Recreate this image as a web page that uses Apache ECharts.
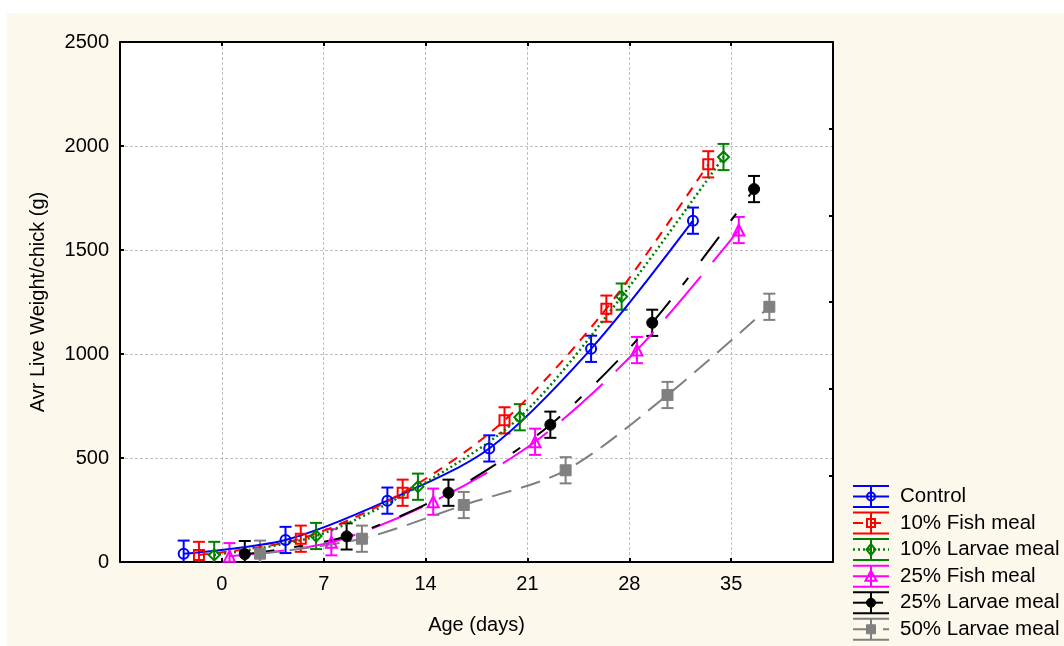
<!DOCTYPE html>
<html>
<head>
<meta charset="utf-8">
<title>Avr Live Weight/chick</title>
<script src="https://cdn.jsdelivr.net/npm/echarts@6/dist/echarts.min.js"></script>
<style>
html, body { margin: 0; padding: 0; background: #ffffff; }
#paper { position: absolute; left: 7px; top: 13px; width: 1057px; height: 633px; background: #fdf8ec; }
#chart { position: absolute; left: 0; top: 0; width: 1064px; height: 646px; }
</style>
</head>
<body>
<div id="paper"></div>
<div id="chart"></div>
<script>
// sampling days (x categories)
const days = [0, 7, 14, 21, 28, 35]
const seriesNames = ['Control', '10% Fish meal', '10% Larvae meal', '25% Fish meal', '25% Larvae meal', '50% Larvae meal']

// mean live weight (g)
const control = [40, 106, 295, 546, 1025, 1641]
const fishMeal10 = [34, 112, 333, 681, 1218, 1912]
const larvaeMeal10 = [34, 125, 362, 696, 1276, 1947]
const fishMeal25 = [28, 95, 290, 578, 1019, 1596]
const larvaeMeal25 = [38, 123, 333, 660, 1150, 1793]
const larvaeMeal50 = [40, 112, 274, 441, 803, 1227]

// half length of the error bars (g)
const errHalf = 63

const yTicks = [0, 500, 1000, 1500, 2000, 2500]

const allValues = [control, fishMeal10, larvaeMeal10, fishMeal25, larvaeMeal25, larvaeMeal50]

// styles per series (hollow = outline only)
const styles = [
  { color: '#0000ff', dash: 'solid', width: 2, symbol: 'circle', hollow: true, size: 10 },
  { color: '#ff0000', dash: [10, 8], width: 2, symbol: 'rect', hollow: true, size: 10 },
  { color: '#008000', dash: [2, 3], width: 2.5, symbol: 'diamond', hollow: true, size: 11 },
  { color: '#ff00ff', dash: [55, 18], width: 2, symbol: 'triangle', hollow: true, size: 11 },
  { color: '#000000', dash: [30, 20, 9, 21], width: 2, symbol: 'circle', hollow: false, size: 11 },
  { color: '#808080', dash: [20, 10], width: 2, symbol: 'rect', hollow: false, size: 11 }
]
// horizontal dodge of each group so the error bars do not overlap (days)
const dodge = 1.05

const font = 'Liberation Sans, Arial, sans-serif'

const series = []
allValues.forEach((vals, i) => {
  const off = (i - 2.5) * dodge
  const st = styles[i]
  const pts = vals.map((v, k) => [days[k] + off, v])
  series.push({
    name: seriesNames[i],
    type: 'custom',
    z: 2,
    silent: true,
    data: vals.map((v, k) => [days[k] + off, v - errHalf, v + errHalf]),
    renderItem: function (params, api) {
      const lo = api.coord([api.value(0), api.value(1)])
      const hi = api.coord([api.value(0), api.value(2)])
      const w = 6
      const ls = { stroke: st.color, lineWidth: 2 }
      return {
        type: 'group',
        children: [
          { type: 'line', shape: { x1: hi[0], y1: hi[1], x2: lo[0], y2: lo[1] }, style: ls },
          { type: 'line', shape: { x1: hi[0] - w, y1: hi[1], x2: hi[0] + w, y2: hi[1] }, style: ls },
          { type: 'line', shape: { x1: lo[0] - w, y1: lo[1], x2: lo[0] + w, y2: lo[1] }, style: ls }
        ]
      }
    },
    clip: true
  })
  series.push({
    name: seriesNames[i],
    type: 'line',
    z: 3,
    smooth: 0.3,
    data: pts,
    symbol: st.symbol,
    symbolSize: st.size,
    showAllSymbol: true,
    lineStyle: { color: st.color, width: st.width, type: st.dash },
    itemStyle: {
      color: st.hollow ? 'rgba(255,255,255,0)' : st.color,
      borderColor: st.color,
      borderWidth: st.hollow ? 2 : 1
    },
    emphasis: { disabled: true },
    animation: false
  })
})

// legend drawn as graphic rows (error bar icon + marker + text)
function markerShape(st, cx, cy) {
  const r = st.size / 2
  const style = st.hollow
    ? { fill: 'rgba(255,255,255,0)', stroke: st.color, lineWidth: 2 }
    : { fill: st.color, stroke: st.color, lineWidth: 1 }
  const s = st.symbol
  if (s === 'circle') return { type: 'circle', shape: { cx: cx, cy: cy, r: r - 1 }, style: style }
  if (s === 'rect') return { type: 'rect', shape: { x: cx - r + 1, y: cy - r + 1, width: 2 * r - 2, height: 2 * r - 2 }, style: style }
  if (s === 'diamond') return { type: 'polygon', shape: { points: [[cx, cy - r], [cx + r - 1, cy], [cx, cy + r], [cx - r + 1, cy]] }, style: style }
  return { type: 'polygon', shape: { points: [[cx, cy - r], [cx + r, cy + r - 1], [cx - r, cy + r - 1]] }, style: style }
}
const legendItems = []
seriesNames.forEach((name, i) => {
  const st = styles[i]
  const cy = 496.5 + 26.55 * i
  const x0 = 853, x1 = 889, cx = 871
  const ls = { stroke: st.color, lineWidth: 2 }
  legendItems.push({ type: 'line', shape: { x1: x0, y1: cy - 10.5, x2: x1, y2: cy - 10.5 }, style: ls })
  legendItems.push({ type: 'line', shape: { x1: x0, y1: cy + 10.5, x2: x1, y2: cy + 10.5 }, style: ls })
  legendItems.push({ type: 'line', shape: { x1: cx, y1: cy - 10.5, x2: cx, y2: cy + 10.5 }, style: ls })
  legendItems.push({ type: 'line', shape: { x1: x0, y1: cy, x2: x1, y2: cy }, style: { stroke: st.color, lineWidth: st.width, lineDash: st.dash === 'solid' ? null : st.dash } })
  legendItems.push(markerShape(st, cx, cy))
  legendItems.push({ type: 'text', x: 900, y: cy, style: { text: name, font: '20.5px ' + font, fill: '#000000', verticalAlign: 'middle', align: 'left' } })
})

const axisLine = { show: true, onZero: false, lineStyle: { color: '#000000', width: 2 } }
const tickIn = { show: true, inside: true, length: 4, lineStyle: { color: '#000000', width: 2 } }
const gridLine = { show: true, lineStyle: { color: '#c0c0c0', width: 1, type: [3, 2] } }

const option = {
  animation: false,
  backgroundColor: 'transparent',
  textStyle: { fontFamily: font },
  grid: { left: 120, top: 42, right: 231, bottom: 84, show: true, backgroundColor: '#ffffff', borderWidth: 0 },
  xAxis: [
    {
      type: 'value', min: -7, max: 42, interval: 7, position: 'bottom',
      name: 'Age (days)', nameLocation: 'middle', nameGap: 53,
      nameTextStyle: { fontSize: 20, color: '#000000', fontFamily: font },
      axisLine: axisLine, axisTick: tickIn, splitLine: gridLine,
      axisLabel: {
        fontSize: 20, color: '#000000', margin: 12, fontFamily: font,
        formatter: v => (days.indexOf(v) >= 0 ? String(v) : '')
      }
    },
    {
      type: 'value', min: -7, max: 42, interval: 7, position: 'top',
      axisLine: axisLine, axisTick: tickIn, splitLine: { show: false }, axisLabel: { show: false }
    }
  ],
  yAxis: [
    {
      type: 'value', min: 0, max: 2500, interval: 500, position: 'left',
      name: 'Avr Live Weight/chick (g)', nameLocation: 'middle', nameGap: 72, nameRotate: 90,
      nameTextStyle: { fontSize: 20, color: '#000000', fontFamily: font },
      axisLine: axisLine, axisTick: tickIn, splitLine: gridLine,
      axisLabel: {
        fontSize: 20, color: '#000000', margin: 11, fontFamily: font,
        formatter: v => (yTicks.indexOf(v) >= 0 ? String(v) : '')
      }
    },
    {
      type: 'value', min: 0, max: 2500, interval: 2500 / 6, position: 'right',
      axisLine: axisLine, axisTick: tickIn, splitLine: { show: false }, axisLabel: { show: false }
    }
  ],
  graphic: legendItems,
  series: series
}

const chart = echarts.init(document.getElementById('chart'), null, { renderer: 'canvas' })
chart.setOption(option)
</script>
</body>
</html>
